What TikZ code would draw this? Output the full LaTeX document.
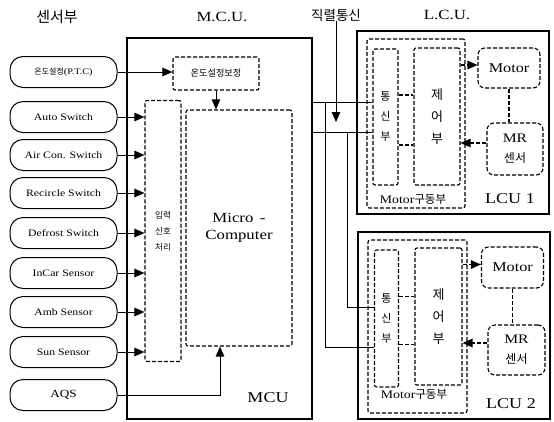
\documentclass[tikz,border=0pt]{standalone}
\usepackage{fontspec}
\setmainfont{Liberation Serif}
\newfontfamily\lat[FakeStretch=1.2]{Liberation Serif}
\newfontfamily\kr{Noto Sans CJK KR}
\usetikzlibrary{arrows.meta,calc}
\tikzset{
  sensor/.style={draw, line width=1pt, rounded corners=13pt, minimum width=107pt, minimum height=31pt, inner sep=0pt, font=\lat\fontsize{9.8}{11}\selectfont},
  dbox/.style={draw, line width=1.1pt, dash pattern=on 4pt off 2pt, rounded corners=2pt, inner sep=0pt},
  rbox/.style={draw, line width=1.1pt, dash pattern=on 4pt off 2pt, rounded corners=7pt, inner sep=0pt},
  sbox/.style={draw, line width=1.4pt, inner sep=0pt},
  wire/.style={line width=1pt},
  dwire/.style={line width=1.1pt, dash pattern=on 4pt off 2pt},
  arr/.style={-{Triangle[length=10pt,width=8.5pt]}},
  lbl/.style={inner sep=0pt}
}
\begin{document}
\begin{tikzpicture}[x=1pt,y=-1pt]
\useasboundingbox (0,0) rectangle (554,421);
% titles
\node[lbl, font=\kr\fontsize{15}{15}\selectfont] (t1) at (57,17) {센서부};
\node[lbl, font=\lat\fontsize{14}{14}\selectfont] (t2) at (222,17) {M.C.U.};
\node[lbl, font=\kr\fontsize{13.5}{14}\selectfont] (ser) at (336,15) {직렬통신};
\node[lbl, font=\lat\fontsize{14}{14}\selectfont] (t3) at (447,15) {L.C.U.};

% MCU
\node[sbox, minimum width=185pt, minimum height=381pt] (mcu) at (219.5,228.5) {};
\node[lbl, font=\lat\fontsize{15}{15}\selectfont] (mculbl) at (268,398) {MCU};
\node[dbox, minimum width=86pt, minimum height=33pt, font=\kr\fontsize{9.2}{10}\selectfont] (cal) at (216,73.5) {온도설정보정};
\node[dbox, minimum width=36pt, minimum height=261pt, align=center, font=\kr\fontsize{8.5}{16}\selectfont] (inp) at (163,231) {입력\\신호\\처리};
\node[dbox, minimum width=106pt, minimum height=236pt, align=center, font=\lat\fontsize{14}{17}\selectfont] (micro) at (239,228) {Micro \,-\\Computer};

% sensors
\node[sensor, font=\fontsize{8.5}{10}\selectfont] (ptc) at (63.5,72) {{\kr\fontsize{8}{10}\selectfont 온도설정}{\lat (P.T.C)}};
\node[sensor] (s1) at (63.5,117) {Auto Switch};
\node[sensor] (s2) at (63.5,155) {Air Con. Switch};
\node[sensor] (s3) at (63.5,193) {Recircle Switch};
\node[sensor] (s4) at (63.5,233) {Defrost Switch};
\node[sensor] (s5) at (63.5,273) {InCar Sensor};
\node[sensor] (s6) at (63.5,312) {Amb Sensor};
\node[sensor] (s7) at (63.5,352) {Sun Sensor};
\node[sensor, font=\lat\fontsize{11}{12}\selectfont] (aqs) at (63.5,395) {AQS};

\draw[wire,arr] (ptc.east) -- (ptc.east -| cal.west);
\foreach \s in {s1,s2,s3,s4,s5,s6,s7}
  \draw[wire,arr] (\s.east) -- (\s.east -| inp.west);
\draw[wire,arr] (cal.south) -- (cal.south |- micro.north);
\coordinate (aqsin) at ($(micro.south)+(-19,0)$);
\draw[wire,arr] (aqs.east) -| (aqsin);

% LCU 1
\node[sbox, minimum width=192pt, minimum height=183pt] (lcu1) at (453,122.5) {};
\node[dbox, minimum width=98pt, minimum height=169pt] (drv1) at (416,123.5) {};
\node[dbox, minimum width=25pt, minimum height=136pt, align=center, font=\kr\fontsize{11}{20}\selectfont] (com1) at (385.5,117) {통\\신\\부};
\node[dbox, minimum width=46pt, minimum height=137pt, align=center, font=\kr\fontsize{13}{22}\selectfont] (ctl1) at (437,116.5) {제\\어\\부};
\node[rbox, minimum width=62pt, minimum height=40pt, font=\lat\fontsize{13.5}{14}\selectfont] (mot1) at (509,68) {Motor};
\node[rbox, minimum width=56pt, minimum height=52pt, align=center, font=\lat\fontsize{13}{20}\selectfont] (mr1) at (515,149) {MR\\{\kr\fontsize{12}{14}\selectfont 센서}};
\node[lbl, font=\fontsize{11.5}{12}\selectfont] (d1lbl) at (413,199) {{\lat Motor}{\kr 구동부}};
\node[lbl, font=\lat\fontsize{15}{15}\selectfont] (l1lbl) at (510,199) {LCU\hspace{5pt}1};
\coordinate (c1a) at ($(com1.east)+(0,-22)$);
\coordinate (c1b) at ($(com1.east)+(0,28)$);
\coordinate (m1in) at ($(mot1.west)+(0,-3)$);
\coordinate (r1out) at ($(mr1.west)+(0,-6)$);
\draw[dwire] (c1a) -- (c1a -| ctl1.west);
\draw[dwire] (c1b) -- (c1b -| ctl1.west);
\draw[dwire,arr] (m1in -| ctl1.east) -- (m1in);
\draw[dwire,arr] (r1out) -- (r1out -| ctl1.east);
\draw[dwire] (mot1.south) -- (mot1.south |- mr1.north);

% LCU 2
\node[sbox, minimum width=192pt, minimum height=187pt] (lcu2) at (454,325.5) {};
\node[dbox, minimum width=99pt, minimum height=173pt] (drv2) at (417.5,326.5) {};
\node[dbox, minimum width=24pt, minimum height=137pt, align=center, font=\kr\fontsize{11}{20}\selectfont] (com2) at (386.5,318.5) {통\\신\\부};
\node[dbox, minimum width=47pt, minimum height=137pt, align=center, font=\kr\fontsize{13}{22}\selectfont] (ctl2) at (438.5,316.5) {제\\어\\부};
\node[rbox, minimum width=62pt, minimum height=41pt, font=\lat\fontsize{13.5}{14}\selectfont] (mot2) at (512.5,267.5) {Motor};
\node[rbox, minimum width=57pt, minimum height=50pt, align=center, font=\lat\fontsize{13}{20}\selectfont] (mr2) at (516.5,350) {MR\\{\kr\fontsize{12}{14}\selectfont 센서}};
\node[lbl, font=\fontsize{11.5}{12}\selectfont] (d2lbl) at (414,394) {{\lat Motor}{\kr 구동부}};
\node[lbl, font=\lat\fontsize{15}{15}\selectfont] (l2lbl) at (511,404) {LCU\hspace{5pt}2};
\coordinate (c2a) at ($(com2.east)+(0,-22)$);
\coordinate (c2b) at ($(com2.east)+(0,26)$);
\coordinate (m2in) at ($(mot2.west)+(0,-3)$);
\coordinate (r2out) at ($(mr2.west)+(0,-7)$);
\draw[dwire] (c2a) -- (c2a -| ctl2.west);
\draw[dwire] (c2b) -- (c2b -| ctl2.west);
\draw[dwire,arr] (m2in -| ctl2.east) -- (m2in);
\draw[dwire,arr] (r2out) -- (r2out -| ctl2.east);
\draw[dwire] (mot2.south) -- (mot2.south |- mr2.north);

% serial lines
\coordinate (ta) at (312,102);
\coordinate (tb) at (312,132);
\coordinate (ba) at (325,102);
\coordinate (bb) at (347,132);
\coordinate (serend) at (337,122);
\coordinate (e2a) at ($(com2.west)+(0,28.5)$);
\coordinate (e2b) at ($(com2.west)+(0,-11.5)$);
\draw[wire] (ta) -- (ta -| com1.west);
\draw[wire] (tb) -- (tb -| com1.west);
\draw[wire] (ba) |- (e2a);
\draw[wire] (bb) |- (e2b);
\draw[wire,arr] (ser.south) -- (ser.south |- serend);
\end{tikzpicture}
\end{document}
